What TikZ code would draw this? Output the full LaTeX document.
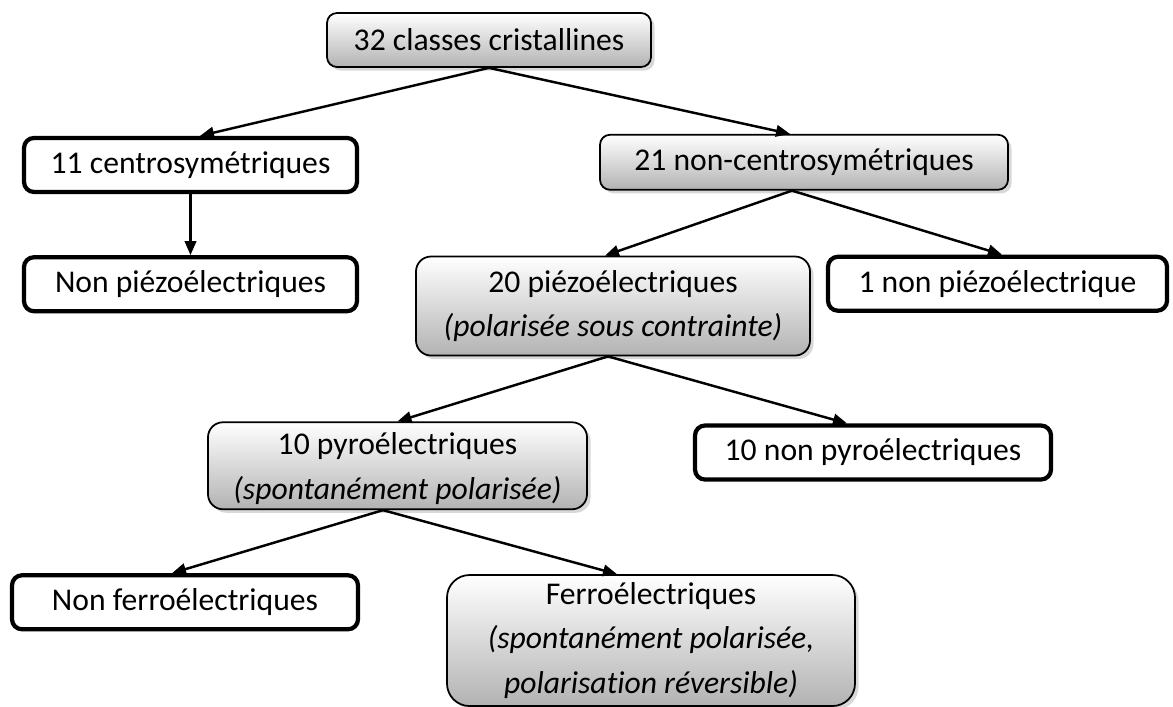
\documentclass[tikz,border=0pt]{standalone}
\usepackage{fontspec}
\setmainfont{Carlito}[Ligatures=CommonOff]
\usetikzlibrary{arrows.meta,positioning,shadows}

\begin{document}
\begin{tikzpicture}[
    node distance=13mm,
    whitebox/.style={rectangle, draw, line width=2.4pt, rounded corners=2mm, align=center, inner sep=0pt, minimum height=1.08cm, font=\fontsize{18}{25.5}\selectfont},
    graybox/.style={whitebox, line width=1pt, top color=white, bottom color=black!30, drop shadow={shadow xshift=0.7mm, shadow yshift=-0.7mm, opacity=0.3}},
    arrow/.style={-{Triangle[length=2.8mm, width=2.3mm]}, line width=1.4pt}
]

\useasboundingbox[fill=white] (0,0) rectangle (23.46,-14.14);

% Top
\node[graybox, minimum width=6.48cm, minimum height=1.08cm] (classes) at (9.78,-0.80) {32 classes cristallines};

% Centrosymmetric branch
\node[whitebox, minimum width=6.66cm, below=1.36cm of classes, xshift=-5.97cm] (centro) {11 centrosymétriques};
\node[whitebox, minimum width=6.66cm, below=1.22cm of centro] (nonpiezo) {Non piézoélectriques};

% Non-centrosymmetric branch
\node[graybox, minimum width=8.16cm, minimum height=1.10cm, below=1.32cm of classes, xshift=6.30cm] (noncentro) {21 non-centrosymétriques};
\node[graybox, minimum width=7.88cm, minimum height=1.98cm, rounded corners=3mm, below=1.30cm of noncentro, xshift=-3.82cm] (piezo) {20 piézoélectriques\\ \textit{(polarisée sous contrainte)}};
\node[whitebox, minimum width=6.78cm, below=1.28cm of noncentro, xshift=3.87cm] (onepiezo) {1 non piézoélectrique};

% Pyroelectric level
\node[graybox, minimum width=7.58cm, minimum height=1.74cm, rounded corners=3mm, text depth=0pt, below=1.30cm of piezo, xshift=-4.31cm] (pyro) {10 pyroélectriques\\ \textit{(spontanément polarisée)}};
\node[whitebox, minimum width=7.12cm, below=1.34cm of piezo, xshift=5.20cm] (nonpyro) {10 non pyroélectriques};

% Ferroelectric level
\node[graybox, minimum width=8.16cm, minimum height=2.62cm, rounded corners=4.5mm, below=1.28cm of pyro, xshift=5.07cm] (ferro) {Ferroélectriques\\ \textit{(spontanément polarisée,}\\ \textit{polarisation réversible)}};
\node[whitebox, minimum width=6.92cm, below=1.26cm of pyro, xshift=-4.25cm] (nonferro) {Non ferroélectriques};

% Arrows
\draw[arrow] (classes.south) -- ([xshift=1.9mm]centro.north);
\draw[arrow] (classes.south) -- ([xshift=-2.8mm]noncentro.north);
\draw[arrow] (centro) -- (nonpiezo);
\draw[arrow] ([xshift=-2.4mm]noncentro.south) -- ([xshift=-1.6mm]piezo.north);
\draw[arrow] ([xshift=-2.4mm]noncentro.south) -- ([xshift=0.9mm]onepiezo.north);
\draw[arrow] ([xshift=-1mm]piezo.south) -- (pyro.north);
\draw[arrow] ([xshift=-1mm]piezo.south) -- ([xshift=-5.2mm]nonpyro.north);
\draw[arrow] ([xshift=-2.9mm]pyro.south) -- ([xshift=-2.6mm]nonferro.north);
\draw[arrow] ([xshift=-2.9mm]pyro.south) -- ([xshift=-6.8mm]ferro.north);

\end{tikzpicture}
\end{document}
